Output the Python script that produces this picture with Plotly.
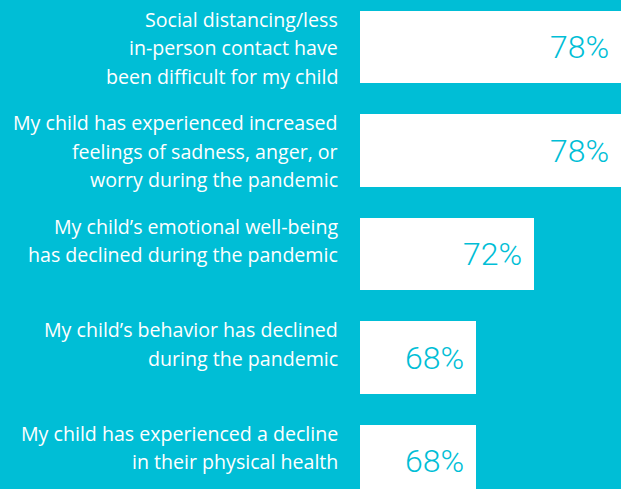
import plotly.graph_objects as go

categories = [
    "Social distancing/less<br>in-person contact have<br>been difficult for my child",
    "My child has experienced increased<br>feelings of sadness, anger, or<br>worry during the pandemic",
    "My child\u2019s emotional well-being<br>has declined during the pandemic",
    "My child\u2019s behavior has declined<br>during the pandemic",
    "My child has experienced a decline<br>in their physical health",
]
values = [78, 78, 72, 68, 68]
value_labels = ["78%", "78%", "72%", "68%", "68%"]

BG = "#00BED6"
WHITE = "#FFFFFF"
FONT = "Open Sans"
PCT_FONT = "Roboto"
BAR_W = 0.696
LINE_H = 28.3

positions = list(range(len(categories)))

fig = go.Figure()
fig.add_trace(go.Bar(
    x=values, y=positions, orientation="h", base=0,
    width=BAR_W, marker=dict(color=WHITE, line=dict(width=0)),
    hoverinfo="skip", showlegend=False,
))

annotations = []
for i, (cat, v, vl) in enumerate(zip(categories, values, value_labels)):
    lines = cat.split("<br>")
    for j, ln in enumerate(lines):
        annotations.append(dict(
            x=60, y=i - BAR_W / 2, xref="x", yref="y",
            xanchor="right", yanchor="top",
            xshift=-20, yshift=7 - j * LINE_H,
            text=ln, showarrow=False,
            font=dict(family=FONT, size=19.6, color=WHITE),
        ))
    annotations.append(dict(
        x=v, y=i, xref="x", yref="y",
        xanchor="right", yanchor="middle",
        xshift=-10, yshift=0,
        text=vl, showarrow=False,
        font=dict(family=PCT_FONT, size=32, color=BG, weight=300),
    ))

fig.update_layout(
    width=621, height=489,
    margin=dict(l=360, r=0, t=0, b=0),
    paper_bgcolor=BG, plot_bgcolor=BG,
    xaxis=dict(range=[60, 78], visible=False, fixedrange=True),
    yaxis=dict(range=[4.2705, -0.4541], visible=False, fixedrange=True),
    annotations=annotations,
    bargap=0,
)

fig.write_html(
    "out.html",
    config={"displayModeBar": False},
    post_script="document.body.style.margin='0';document.body.style.overflow='hidden';",
)
